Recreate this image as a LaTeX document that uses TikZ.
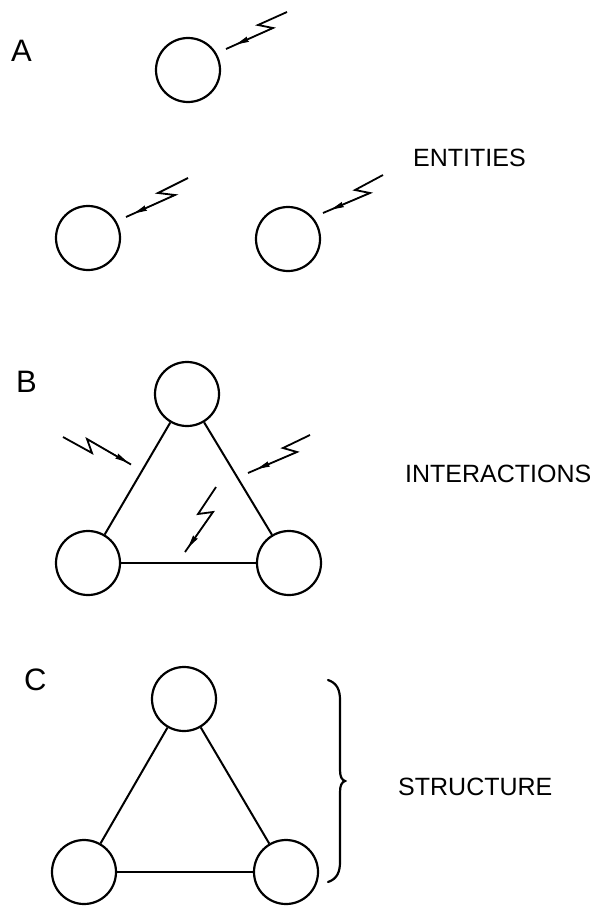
\documentclass[tikz,border=0pt]{standalone}
\usepackage{fontspec}
\setmainfont{Liberation Sans}
\usetikzlibrary{arrows.meta}
\begin{document}
\begin{tikzpicture}[x=1pt,y=-1pt,
  ent/.style={draw,circle,minimum size=64pt,inner sep=0pt,line width=2.2pt},
  link/.style={line width=2pt},
  bolt/.style={line width=1.8pt,line join=miter},
  bolthead/.style={line width=1pt,-{Stealth[length=13pt,width=5.5pt,inset=1pt]}},
  lab/.style={anchor=base west,inner sep=0pt,font=\fontsize{25}{30}\selectfont},
  biglab/.style={anchor=base west,inner sep=0pt,font=\fontsize{31}{36}\selectfont},
  bracestyle/.style={line width=2.2pt,line cap=round}]
\useasboundingbox (0,0) rectangle (610,907);

% ---------- A : entities ----------
\node[biglab] (labA) at (11,62) {A};
\node[ent] (a1) at (188,70) {};
\node[ent] (a2) at (88,238) {};
\node[ent] (a3) at (288,239) {};
\node[lab] (ent) at (413,166) {ENTITIES};

\coordinate (a1t) at (287,12);
\coordinate (a1z) at (258,25);
\coordinate (a1y) at (273,28);
\coordinate (a1m) at (236,44.5);
\coordinate (a1e) at (226,49);
\draw[bolt] (a1t) -- (a1z) -- (a1y) -- (a1e);
\draw[bolthead] (a1y) -- (a1m);

\coordinate (a2t) at (188,178);
\coordinate (a2z) at (158,193);
\coordinate (a2y) at (175,195);
\coordinate (a2m) at (134,213.4);
\coordinate (a2e) at (126,217);
\draw[bolt] (a2t) -- (a2z) -- (a2y) -- (a2e);
\draw[bolthead] (a2y) -- (a2m);

\coordinate (a3t) at (383,175);
\coordinate (a3z) at (355,190);
\coordinate (a3y) at (370,193);
\coordinate (a3m) at (331,209.6);
\coordinate (a3e) at (323,213);
\draw[bolt] (a3t) -- (a3z) -- (a3y) -- (a3e);
\draw[bolthead] (a3y) -- (a3m);

% ---------- B : interactions ----------
\node[biglab] (labB) at (16,392) {B};
\node[ent] (b1) at (187,394) {};
\node[ent] (b2) at (88,563) {};
\node[ent] (b3) at (289,563) {};
\draw[link] (b1) -- (b2);
\draw[link] (b1) -- (b3);
\draw[link] (b2) -- (b3);
\node[lab] (inter) at (405,482) {INTERACTIONS};

\coordinate (blt) at (63,437);
\coordinate (blz) at (92,453);
\coordinate (bly) at (87,439);
\coordinate (blm) at (128,462.5);
\coordinate (ble) at (131,464.5);
\draw[bolt] (blt) -- (blz) -- (bly) -- (ble);
\draw[bolthead] (bly) -- (blm);

\coordinate (brt) at (310,435);
\coordinate (brz) at (283,448);
\coordinate (bry) at (297,452);
\coordinate (brm) at (257,469);
\coordinate (bre) at (248,473);
\draw[bolt] (brt) -- (brz) -- (bry) -- (bre);
\draw[bolthead] (bry) -- (brm);

\coordinate (bmt) at (216,487);
\coordinate (bmz) at (198,514);
\coordinate (bmy) at (213,512);
\coordinate (bmm) at (188,547.7);
\coordinate (bme) at (185,552);
\draw[bolt] (bmt) -- (bmz) -- (bmy) -- (bme);
\draw[bolthead] (bmy) -- (bmm);

% ---------- C : structure ----------
\node[biglab] (labC) at (24,690) {C};
\node[ent] (c1) at (184,699) {};
\node[ent] (c2) at (84,872) {};
\node[ent] (c3) at (286,872) {};
\draw[link] (c1) -- (c2);
\draw[link] (c1) -- (c3);
\draw[link] (c2) -- (c3);
\node[lab] (struct) at (398,795) {STRUCTURE};

\draw[bracestyle] (328,680) .. controls (337,683) and (340,690) .. (340,700)
  -- (340,770) .. controls (340,777) and (342,780) .. (345,781)
  .. controls (342,782) and (340,785) .. (340,792)
  -- (340,862) .. controls (340,872) and (337,879) .. (328,882);
\end{tikzpicture}
\end{document}
